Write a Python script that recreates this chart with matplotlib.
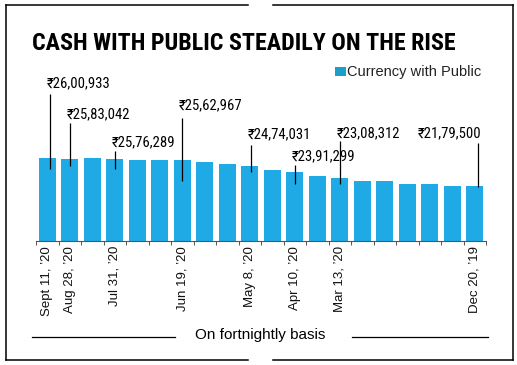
import matplotlib
matplotlib.use("Agg")
import matplotlib.pyplot as plt
from matplotlib import font_manager as fm
from matplotlib.lines import Line2D
from matplotlib.patches import Rectangle

# ---------------- data ----------------
dates = ["Sept 11, \u201920", "Aug 28, \u201920", "", "Jul 31, \u201920", "", "",
         "Jun 19, \u201920", "", "", "May 8, \u201920", "", "Apr 10, \u201920", "",
         "Mar 13, \u201920", "", "", "", "", "", "Dec 20, \u201919"]
# currency with public, Rs crore (fortnightly)
values = [2600933, 2583042, 2592000, 2576289, 2572000, 2568000, 2562967, 2538000,
          2514000, 2474031, 2420000, 2391299, 2330000, 2308312, 2259000, 2254000,
          2215000, 2210000, 2181000, 2179500]
label_idx = [0, 1, 3, 6, 9, 11, 13, 19]
title = "CASH WITH PUBLIC STEADILY ON THE RISE"
legend_label = "Currency with Public"
footer = "On fortnightly basis"

# annotation layout (pixels): text baseline above bar top, line top above, line bottom below, line x offset, align
ann_text_dy = [70, 40, 13, 51, 28, 12, 40, 49]
ann_line_top = [64, 36, 8, 42, 21, 7, 37, 43]
ann_line_bot = [11, 7, 10, 21, 6, 12, 6, 1]
ann_xoff = [3, 0, 0, 0, 1, 0, 0, 3]
ann_ha = ["left"] * 7 + ["right"]


def pick(cands, default="DejaVu Sans"):
    for c in cands:
        try:
            fm.findfont(fm.FontProperties(family=c), fallback_to_default=False)
            return c
        except Exception:
            pass
    return default


narrow = pick(["Liberation Sans Narrow", "Noto Sans Condensed", "DejaVu Sans Condensed",
               "Roboto Condensed", "Arial Narrow"], "Liberation Sans")
regular = pick(["Liberation Sans", "Arial", "DejaVu Sans"])
narrow_fam = [narrow, "Noto Sans", "DejaVu Sans"]
regular_fam = [regular, "DejaVu Sans"]


def indian(n):
    s = str(int(n))
    last3 = s[-3:]
    rest = s[:-3]
    parts = []
    while len(rest) > 2:
        parts.insert(0, rest[-2:])
        rest = rest[:-2]
    if rest:
        parts.insert(0, rest)
    return "\u20b9" + ",".join(parts + [last3])


W, H = 517, 365
fig = plt.figure(figsize=(W / 100, H / 100), dpi=100)
fig.patch.set_facecolor("white")

ax_l, ax_r, ax_b, ax_t = 36, 486, 240.5, 60.5
ax = fig.add_axes([ax_l / W, 1 - ax_b / H, (ax_r - ax_l) / W, (ax_b - ax_t) / H])
ymin = 1390000
px_per_unit = 6.85 / 100000
ymax = ymin + (ax_b - ax_t) / px_per_unit
ax.set_ylim(ymin, ymax)
ax.set_xlim(-0.5, len(values) - 0.5)

x = list(range(len(values)))
bar_color = "#1fa9e5"
ax.bar(x, [v - ymin for v in values], bottom=ymin, width=0.74, color=bar_color, zorder=2)

for s in ["top", "left", "right"]:
    ax.spines[s].set_visible(False)
ax.spines["bottom"].set_color("#555555")
ax.spines["bottom"].set_linewidth(0.8)
ax.set_yticks([])
ax.set_xticks([i - 0.5 for i in range(len(values) + 1)])
ax.set_xticklabels([])
ax.tick_params(axis="x", which="major", length=3, width=0.7, color="#555555", direction="out")
ax.set_xticks(label_idx, minor=True)
ax.set_xticklabels([dates[i] for i in label_idx], minor=True, rotation=90,
                   fontsize=9.5, family=regular_fam, color="#111111", va="top", ha="center")
ax.tick_params(axis="x", which="minor", length=0, pad=4)

dpp = 1 / px_per_unit
dxp = (len(values)) / (ax_r - ax_l)
for k, i in enumerate(label_idx):
    v = values[i]
    xl = i + ann_xoff[k] * dxp
    ax.plot([xl, xl], [v - ann_line_bot[k] * dpp, v + ann_line_top[k] * dpp],
            color="black", lw=0.9, zorder=3, solid_capstyle="butt")
    tx = -3.5 if ann_ha[k] == "left" else 3.5
    ax.annotate(indian(v), xy=(xl, v), xytext=(tx, ann_text_dy[k]), textcoords="offset pixels",
                ha=ann_ha[k], va="baseline", fontsize=10.6, family=narrow_fam, color="black",
                annotation_clip=False)

# title
fig.text(32 / W, 1 - 50 / H, title, ha="left", va="baseline", fontsize=17.3,
         fontweight="bold", family=narrow_fam, color="black")

# legend
fig.patches.append(Rectangle((335 / W, 1 - 76 / H), 11 / W, 9 / H, transform=fig.transFigure,
                             facecolor="#1b9fc9", edgecolor="none"))
fig.text(347 / W, 1 - 76 / H, legend_label, ha="left", va="baseline", fontsize=10.5,
         family=regular_fam, color="#222222")

# footer
fig.text(260.5 / W, 1 - 339 / H, footer, ha="center", va="baseline", fontsize=11,
         family=regular_fam, color="black")


def fline(x0, y0, x1, y1, lw=1.0):
    fig.add_artist(Line2D([x0 / W, x1 / W], [1 - y0 / H, 1 - y1 / H],
                          transform=fig.transFigure, color="black", lw=lw))


fline(32, 337.3, 175, 337.3, 0.9)
fline(352, 337.3, 488, 337.3, 0.9)

# frame
fline(6, 4.7, 248, 4.7, 1.1)
fline(273, 4.7, 513, 4.7, 1.1)
fline(6, 360, 248, 360, 1.1)
fline(273, 360, 513, 360, 1.1)
fline(6, 4.7, 6, 360, 1.1)
fline(513, 4.7, 513, 360, 1.1)

fig.savefig("out.png", dpi=100, facecolor="white")
